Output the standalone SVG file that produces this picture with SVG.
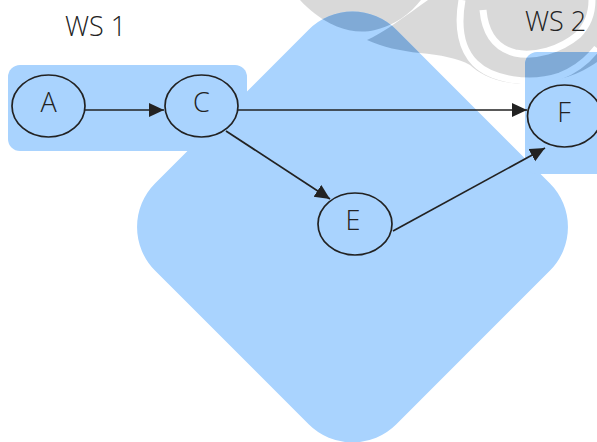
<svg xmlns="http://www.w3.org/2000/svg" width="597" height="442" viewBox="0 0 597 442">
  <style>
    .lane { fill: #a9d3fe; }
    .lane-dark { fill: #80aad6; }
    .wm { fill: #d9d9d9; }
    .node ellipse { fill: none; stroke: #222; stroke-width: 1.7; }
    .label { font-family: "Open Sans", "Liberation Sans", sans-serif; font-weight: 300; font-size: 27px; fill: #222; text-anchor: middle; }
    .edge { fill: none; stroke: #222; stroke-width: 1.7; marker-end: url(#arrow); }
  </style>
  <defs>
    <marker id="arrow" markerUnits="userSpaceOnUse" markerWidth="16" markerHeight="15" refX="15" refY="7" orient="auto">
      <path d="M0,0 L15,7 L0,14 Z" fill="#222"/>
    </marker>
    <!-- swirl emblem in the page background -->
    <mask id="emblem" maskUnits="userSpaceOnUse" x="0" y="0" width="597" height="442">
      <path fill="#fff" d="M300,0 L421,0 C410,14 395,25 375,30 C350,36 322,24 300,0 Z"/>
      <path fill="#fff" d="M367,40 C385,32 405,16 428,0 L597,0 L597,62 C580,74 560,82 525,84 C495,83 480,74 470,65 C458,58 440,55 420,53 C400,51 383,47 367,40 Z"/>
      <g fill="none" stroke="#000" stroke-width="7">
        <path d="M462,0 C457,28 462,50 475,63 C492,80 530,86 560,76 C575,70 588,60 597,48"/>
        <path d="M483,10 C485,32 495,48 515,53 C535,57 560,50 578,35 C588,25 592,12 592,0"/>
      </g>
    </mask>
    <clipPath id="lanes">
      <rect x="8" y="65" width="239" height="86" rx="12"/>
      <rect x="525" y="52" width="90" height="122" rx="12"/>
      <rect x="182" y="56.5" width="341" height="341" rx="62" transform="rotate(45 352.5 227)"/>
    </clipPath>
  </defs>

  <!-- background emblem -->
  <rect class="wm" x="0" y="0" width="597" height="100" mask="url(#emblem)"/>

  <!-- workstation areas -->
  <g id="lane-ws1">
    <rect class="lane" x="8" y="65" width="239" height="86" rx="12"/>
    <text class="label" x="95.5" y="36">WS 1</text>
  </g>
  <g id="lane-mid">
    <rect class="lane" x="182" y="56.5" width="341" height="341" rx="62" transform="rotate(45 352.5 227)"/>
  </g>
  <g id="lane-ws2">
    <rect class="lane" x="525" y="52" width="90" height="122" rx="12"/>
  </g>
  <!-- emblem showing through the areas -->
  <g clip-path="url(#lanes)">
    <rect class="lane-dark" x="0" y="0" width="597" height="100" mask="url(#emblem)"/>
  </g>
  <text class="label" x="555.5" y="31">WS 2</text>

  <!-- connectors -->
  <g id="edges">
    <path class="edge" d="M85,110 L164,110"/>
    <path class="edge" d="M238,110 L527,110"/>
    <path class="edge" d="M226,131 L330,199"/>
    <path class="edge" d="M393,231 L545,148"/>
  </g>

  <!-- nodes -->
  <g id="node-A" class="node">
    <ellipse cx="48.5" cy="106" rx="36.5" ry="31"/>
    <text class="label" x="48.5" y="112">A</text>
  </g>
  <g id="node-C" class="node">
    <ellipse cx="201.5" cy="106" rx="36.5" ry="31"/>
    <text class="label" x="201.5" y="112">C</text>
  </g>
  <g id="node-E" class="node">
    <ellipse cx="355" cy="224" rx="37" ry="31"/>
    <text class="label" x="353" y="230">E</text>
  </g>
  <g id="node-F" class="node">
    <ellipse cx="564.5" cy="116" rx="37" ry="31"/>
    <text class="label" x="564" y="122">F</text>
  </g>
</svg>
